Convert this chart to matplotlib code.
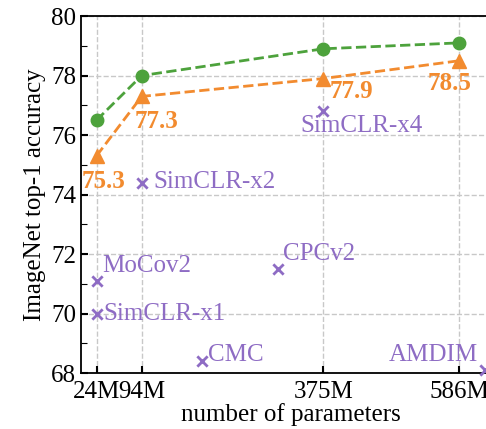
import numpy as np
import matplotlib
matplotlib.use('Agg')
import matplotlib.pyplot as plt
from matplotlib.ticker import MultipleLocator

plt.rcParams['font.family'] = ['Liberation Serif', 'DejaVu Serif']
plt.rcParams['font.size'] = 18

# --- data ---
params = [24, 94, 375, 586]            # number of parameters (M)
tick_labels = ['24M', '94M', '375M', '586M']
acc_green = [76.5, 78.0, 78.9, 79.1]
acc_orange = [75.3, 77.3, 77.9, 78.5]

others = ['MoCov2', 'SimCLR-x1', 'SimCLR-x2', 'SimCLR-x4', 'CMC', 'CPCv2', 'AMDIM']
others_params = [24, 24, 94, 375, 188, 305, 626]
others_acc = [71.1, 70.0, 74.4, 76.8, 68.4, 71.5, 68.1]

GREEN = '#4da23c'
ORANGE = '#f28b2f'
PURPLE = '#8e6cc4'

fig = plt.figure(figsize=(4.86, 4.29), dpi=100)
ax = fig.add_axes([0.1667, 0.1305, 0.8638, 0.832])

ax.plot(params, acc_green, '--o', color=GREEN, lw=2, ms=9, zorder=3)
ax.plot(params, acc_orange, '--^', color=ORANGE, lw=2, ms=10, zorder=3)
ax.scatter(others_params, others_acc, marker='x', color=PURPLE, s=55, lw=2,
           zorder=3, clip_on=False)

# orange value labels
for xv, yv, dx, dy in zip(params, acc_orange, [11, 23, 44, -16], [-0.85, -0.83, -0.42, -0.75]):
    ax.text(xv + dx, yv + dy, f'{yv}', color=ORANGE, fontweight='bold',
            ha='center', va='center')

# purple method labels
lab_pos = {
    'MoCov2': (33, 71.6, 'left'),
    'SimCLR-x1': (35, 70.0, 'left'),
    'SimCLR-x2': (112, 74.42, 'left'),
    'SimCLR-x4': (434, 76.3, 'center'),
    'CMC': (197, 68.6, 'left'),
    'CPCv2': (313, 72.0, 'left'),
    'AMDIM': (546, 68.6, 'center'),
}
for name in others:
    xt, yt, ha = lab_pos[name]
    ax.text(xt, yt, name, color=PURPLE, ha=ha, va='center')

ax.set_xlim(0, 650)
ax.set_ylim(68, 80)
ax.set_xticks(params)
ax.set_xticklabels(tick_labels)
ax.yaxis.set_major_locator(MultipleLocator(2))
ax.yaxis.set_minor_locator(MultipleLocator(1))
ax.tick_params(axis='both', which='both', direction='in')
ax.tick_params(axis='both', which='major', length=5, width=1.5)
ax.tick_params(axis='x', which='major', pad=6)
ax.tick_params(axis='y', which='minor', length=4, width=0.8)
ax.grid(True, which='major', linestyle='--', color='#c8c8c8', lw=1)
ax.set_axisbelow(True)
for s in ax.spines.values():
    s.set_linewidth(1.3)

ax.set_xlabel('number of parameters', labelpad=0)
ax.set_ylabel('ImageNet top-1 accuracy', labelpad=4)

fig.savefig('out.png', dpi=100)
